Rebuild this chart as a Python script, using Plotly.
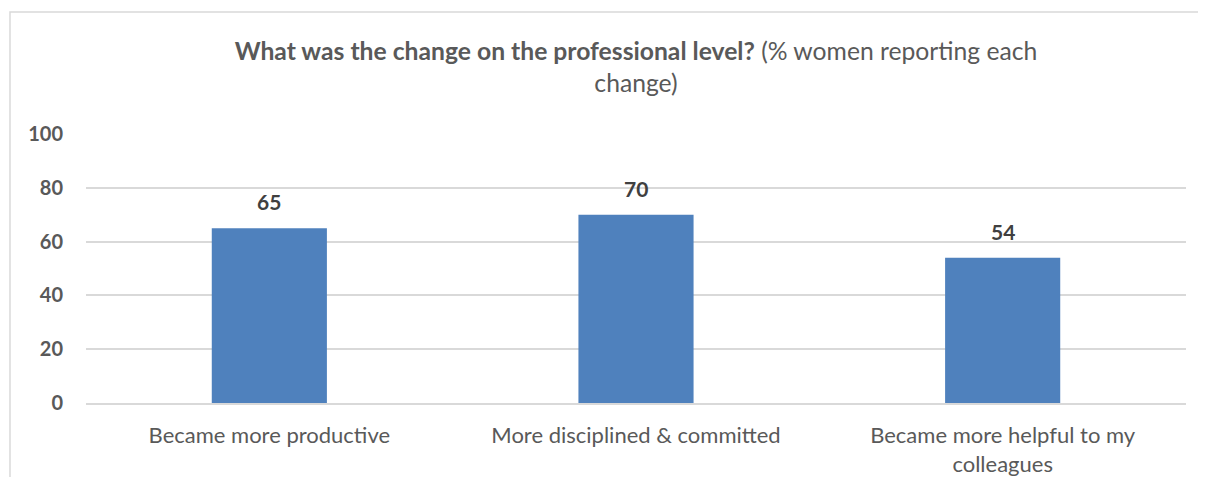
import plotly.graph_objects as go

categories = ["Became more productive", "More disciplined & committed",
              "Became more helpful to my<br>colleagues"]
values = [65, 70, 54]
y_ticks = [0, 20, 40, 60, 80, 100]

title_bold = "What was the change on the professional level?"
title_rest = " (% women reporting each<br>change)"

FONT = "Lato, Carlito, Calibri, sans-serif"

fig = go.Figure()
fig.add_trace(go.Bar(
    x=categories, y=values,
    marker=dict(color="#4F81BD", line=dict(width=0)),
    width=0.314,
    hoverinfo="x+y",
))

# value labels above bars, a bit further out than the default bar text
for cat, val in zip(categories, values):
    fig.add_annotation(
        x=cat, y=val, xref="x", yref="y",
        text=f"<b>{val}</b>", showarrow=False,
        yanchor="bottom", yshift=12,
        font=dict(family=FONT, size=21, color="#404040"),
    )

fig.update_layout(
    width=1190, height=469,
    paper_bgcolor="white", plot_bgcolor="white",
    margin=dict(l=78, r=12, t=126, b=74, autoexpand=False),
    showlegend=False,
    font=dict(family=FONT, color="#595959"),
    title=dict(
        text=f"<b>{title_bold}</b>{title_rest}",
        x=0.5, xref="paper", xanchor="center",
        y=0.890, yref="container", yanchor="middle",
        font=dict(family=FONT, size=24.7, color="#595959"),
    ),
    shapes=[dict(
        type="rect", xref="paper", yref="paper",
        x0=-0.0691, x1=1.2, y0=-0.5, y1=1.4535,
        line=dict(color="#d9d9d9", width=1.5), layer="below",
    )],
)

fig.update_yaxes(
    range=[0, 100], tickvals=y_ticks,
    showgrid=True, gridcolor="#d9d9d9", gridwidth=1.5,
    zeroline=False, showline=False, automargin=False,
    tickfont=dict(family=FONT, size=20, color="#595959", weight="bold"),
    ticklabelstandoff=22,
)
fig.update_xaxes(
    showline=True, linecolor="#d9d9d9", linewidth=1.5, automargin=False,
    tickfont=dict(family=FONT, size=22, color="#595959"),
    ticks="", ticklabelstandoff=12,
)

fig.write_html("out.html")
